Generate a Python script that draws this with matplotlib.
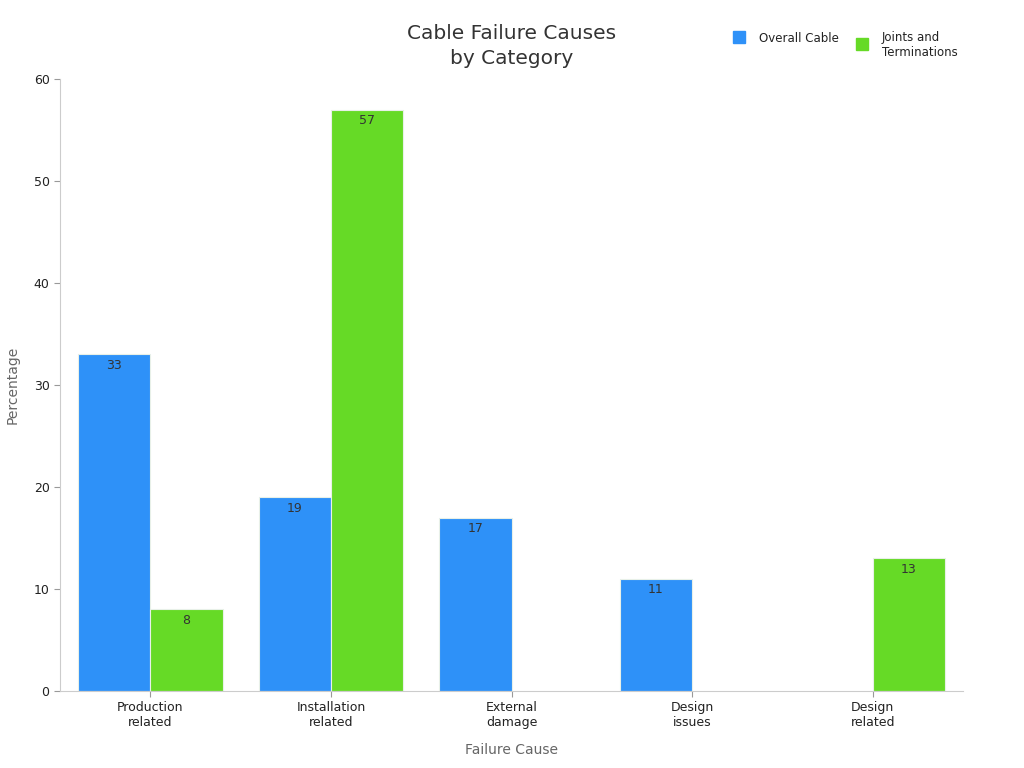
import matplotlib
matplotlib.use("Agg")
import matplotlib.pyplot as plt
import numpy as np
from matplotlib.lines import Line2D

categories = ["Production\nrelated", "Installation\nrelated", "External\ndamage", "Design\nissues", "Design\nrelated"]
overall_cable = [33, 19, 17, 11, None]
joints_terminations = [8, 57, None, None, 13]
series_names = ["Overall Cable", "Joints and\nTerminations"]
colors = ["#2E91F8", "#66DA26"]

fig = plt.figure(figsize=(10.24, 7.68), dpi=100)
ax = fig.add_axes([60/1024, 1-691/768, 903/1024, 612/768])

x = np.arange(len(categories))
w = 0.4
for vals, off, col in [(overall_cable, -w/2, colors[0]), (joints_terminations, w/2, colors[1])]:
    for i, v in enumerate(vals):
        if v is None:
            continue
        ax.bar(x[i] + off, v, width=w, color=col, edgecolor="#e8f0e8", linewidth=0.8)
        ax.text(x[i] + off, v - 0.45, str(v), ha="center", va="top", fontsize=9, color="#333333")

ax.set_xlim(-0.5, 4.5)
ax.set_ylim(0, 60)
ax.set_yticks([0, 10, 20, 30, 40, 50, 60])
ax.set_xticks(x)
ax.set_xticklabels(categories, fontsize=9, color="#222222")
ax.tick_params(axis="y", labelsize=9, colors="#222222")
ax.tick_params(axis="both", color="#999999", length=4)
for s in ["top", "right"]:
    ax.spines[s].set_visible(False)
for s in ["left", "bottom"]:
    ax.spines[s].set_color("#cccccc")
ax.set_ylabel("Percentage", fontsize=10, color="#666666", labelpad=10)
ax.set_xlabel("Failure Cause", fontsize=10, color="#666666", labelpad=10)

fig.text(512/1024, 1-46/768, "Cable Failure Causes\nby Category", ha="center", va="center",
         fontsize=14.5, color="#333333", linespacing=1.4)

# legend drawn manually to match layout
leg_pos = [(739, 37, 759, 38, "center"), (862, 44, 882, 31, "top")]
for (mx, my, tx, ty, va), name, col in zip(leg_pos, series_names, colors):
    fig.add_artist(Line2D([mx/1024], [1-my/768], marker="s", markersize=8, color=col,
                          linestyle="none", transform=fig.transFigure))
    fig.text(tx/1024, 1-ty/768, name, ha="left", va=va, fontsize=8.5, color="#222222",
             linespacing=1.2)

fig.savefig("out.png", dpi=100)
